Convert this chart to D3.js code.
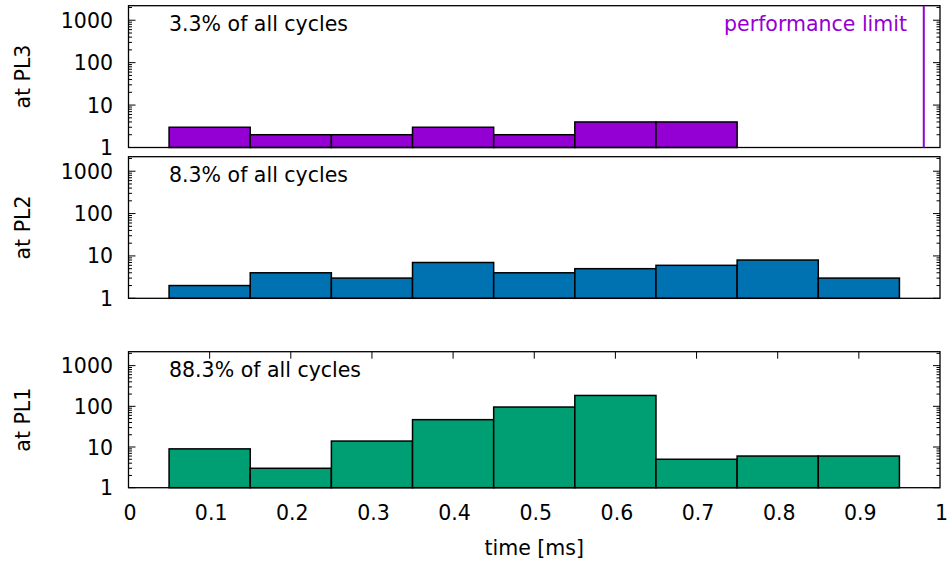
<!DOCTYPE html>
<html>
<head>
<meta charset="utf-8">
<script src="https://cdn.jsdelivr.net/npm/d3@7"></script>
<style>
    body { margin: 0; background: #fff; }
    svg { font-family: 'DejaVu Sans', sans-serif; }
</style>
</head>
<body>
<div id="chart"></div>
<script>
/* global d3 */
// bin centres in ms, one bin per 0.1 ms
const binCenters = [0.1, 0.2, 0.3, 0.4, 0.5, 0.6, 0.7, 0.8, 0.9],
    countsPL3 = [3, 2, 2, 3, 2, 4, 4, 0, 0],
    countsPL2 = [2, 4, 3, 7, 4, 5, 6, 8, 3],
    countsPL1 = [9, 3, 14, 47, 96, 185, 5, 6, 6],
    panelLabels = ['at PL3', 'at PL2', 'at PL1'],
    shareLabels = ['3.3% of all cycles', '8.3% of all cycles', '88.3% of all cycles'],
    xTicks = [0, 0.1, 0.2, 0.3, 0.4, 0.5, 0.6, 0.7, 0.8, 0.9, 1],
    yTicks = [1, 10, 100, 1000],
    perfLimit = 0.98,
    binWidth = 0.1;

const width = 947,
    height = 562,
    left = 128.5,
    right = 940,
    fontSize = 20.5,
    panels = [
        { top: 5.7, bottom: 147.5, counts: countsPL3, color: '#9400d3', xTicksTop: false },
        { top: 156.7, bottom: 298.3, counts: countsPL2, color: '#0072b2', xTicksTop: false },
        { top: 351.7, bottom: 487.7, counts: countsPL1, color: '#009e73', xTicksTop: true }
    ];

const svg = d3.select('#chart').append('svg')
    .attr('width', width)
    .attr('height', height);

const x = d3.scaleLinear().domain([0, 1]).range([left, right]);

function label (parent, tx, ty, str, anchor, rot) {
    return parent.append('text')
        .attr('transform', `translate(${[tx, ty]})${rot ? ` rotate(${rot})` : ''}`)
        .attr('text-anchor', anchor || 'start')
        .attr('font-size', fontSize)
        .attr('fill', '#000')
        .text(str);
}

const minorTicks = [];
[1, 10, 100, 1000].forEach(d => {
    for (let k = 2; k <= 9; k++) {
        if (d * k < 2200) minorTicks.push(d * k);
    }
});

panels.forEach((p, i) => {
    const y = d3.scaleLog().domain([1, 2200]).range([p.bottom, p.top]),
        g = svg.append('g');

    // log ticks, inward on both sides
    const tickG = g.append('g').attr('stroke', '#000').attr('stroke-width', 1);
    yTicks.forEach(t => {
        tickG.append('line').attr('x1', left).attr('x2', left + 7).attr('y1', y(t)).attr('y2', y(t));
        tickG.append('line').attr('x1', right).attr('x2', right - 7).attr('y1', y(t)).attr('y2', y(t));
    });
    minorTicks.forEach(t => {
        tickG.append('line').attr('x1', left).attr('x2', left + 3.5).attr('y1', y(t)).attr('y2', y(t));
        tickG.append('line').attr('x1', right).attr('x2', right - 3.5).attr('y1', y(t)).attr('y2', y(t));
    });
    if (p.xTicksTop) {
        xTicks.slice(1, -1).forEach(t => {
            tickG.append('line').attr('x1', x(t)).attr('x2', x(t)).attr('y1', p.top).attr('y2', p.top + 7);
        });
    }

    yTicks.forEach(t => label(g, 113, y(t) + 7.5, t, 'end'));

    // bars
    const bars = binCenters.map((c, j) => ({ c: c, v: p.counts[j] })).filter(d => d.v > 0);
    g.append('g')
        .selectAll('rect')
        .data(bars)
        .enter().append('rect')
        .attr('x', d => x(d.c - binWidth / 2))
        .attr('width', d => x(d.c + binWidth / 2) - x(d.c - binWidth / 2))
        .attr('y', d => y(d.v))
        .attr('height', d => y(1) - y(d.v))
        .attr('fill', p.color)
        .attr('stroke', '#000')
        .attr('stroke-width', 1.5);

    // frame
    g.append('rect')
        .attr('x', left)
        .attr('y', p.top)
        .attr('width', right - left)
        .attr('height', p.bottom - p.top)
        .attr('fill', 'none')
        .attr('stroke', '#000')
        .attr('stroke-width', 1.3);

    label(g, 169, p.top + 25, shareLabels[i]);
    label(g, 30, (p.top + p.bottom) / 2, panelLabels[i], 'middle', -90);

    if (i === 0) {
        g.append('line')
            .attr('x1', x(perfLimit)).attr('x2', x(perfLimit))
            .attr('y1', p.top).attr('y2', p.bottom)
            .attr('stroke', p.color)
            .attr('stroke-width', 2);
        label(g, 907, p.top + 25, 'performance limit', 'end')
            .attr('fill', p.color);
    }
});

// x axis labels under the last panel
const last = panels[panels.length - 1],
    xLab = svg.append('g');
xTicks.forEach(t => label(xLab, x(t) + 1.5, last.bottom + 32.5, t, 'middle'));

label(svg, (left + right) / 2, 555, 'time [ms]', 'middle');
</script>
</body>
</html>
